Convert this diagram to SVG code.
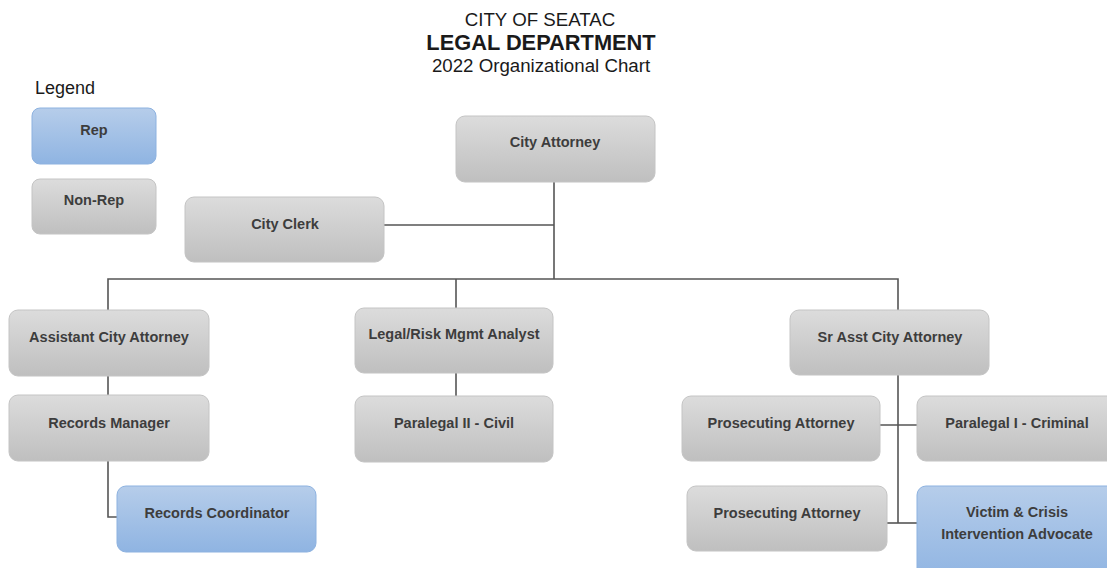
<svg xmlns="http://www.w3.org/2000/svg" width="1107" height="568" viewBox="0 0 1107 568">
  <style>
    .title { font-family: "Liberation Sans", Arial, sans-serif; fill: #1a1a1a; text-anchor: middle; }
    .legend { font-family: "Liberation Sans", Arial, sans-serif; font-size: 18px; fill: #1a1a1a; }
    .box { stroke-width: 1; }
    .grey { fill: url(#gGrey); stroke: #c4c4c4; }
    .blue { fill: url(#gBlue); stroke: #8db2e0; }
    .lbl { font-family: "Liberation Sans", Arial, sans-serif; font-weight: bold; font-size: 14.5px; fill: #3d3d3d; text-anchor: middle; }
    .conn { fill: none; stroke: #555; stroke-width: 1.6; }
  </style>
  <defs>
    <linearGradient id="gGrey" x1="0" y1="0" x2="0" y2="1">
      <stop offset="0" stop-color="#dcdcdc"/>
      <stop offset="1" stop-color="#bfbfbf"/>
    </linearGradient>
    <linearGradient id="gBlue" x1="0" y1="0" x2="0" y2="1">
      <stop offset="0" stop-color="#b6cdea"/>
      <stop offset="1" stop-color="#8fb4e2"/>
    </linearGradient>
  </defs>

  <rect width="1107" height="568" fill="#ffffff"/>

  <!-- heading -->
  <g id="heading">
    <text class="title" x="540" y="26" font-size="18.7">CITY OF SEATAC</text>
    <text class="title" x="541" y="50" font-size="21.8" font-weight="bold" fill="#000">LEGAL DEPARTMENT</text>
    <text class="title" x="541" y="72" font-size="18.7">2022 Organizational Chart</text>
  </g>

  <!-- legend -->
  <g id="legend">
    <text class="legend" x="35" y="94">Legend</text>
    <g id="legend-rep">
      <rect class="box blue" x="32" y="108" width="124" height="56" rx="8"/>
      <text class="lbl" x="94" y="135">Rep</text>
    </g>
    <g id="legend-nonrep">
      <rect class="box grey" x="32" y="179" width="124" height="55" rx="8"/>
      <text class="lbl" x="94" y="205">Non-Rep</text>
    </g>
  </g>

  <!-- reporting lines -->
  <g id="connectors">
    <path class="conn" d="M554 181 V279"/>
    <path class="conn" d="M384 225 H554"/>
    <path class="conn" d="M108 310 V279 H898 V310"/>
    <path class="conn" d="M456 279 V308"/>
    <path class="conn" d="M108 376 V395"/>
    <path class="conn" d="M108 461 V517 H117"/>
    <path class="conn" d="M456 373 V396"/>
    <path class="conn" d="M898 375 V523"/>
    <path class="conn" d="M880 425 H917"/>
    <path class="conn" d="M887 523 H917"/>
  </g>

  <g id="city-attorney">
    <rect class="box grey" x="456" y="116" width="199" height="66" rx="9"/>
    <text class="lbl" x="555" y="147">City Attorney</text>
  </g>
  <g id="city-clerk">
    <rect class="box grey" x="185" y="197" width="199" height="65" rx="9"/>
    <text class="lbl" x="285" y="229">City Clerk</text>
  </g>
  <g id="assistant-city-attorney">
    <rect class="box grey" x="9" y="310" width="200" height="66" rx="9"/>
    <text class="lbl" x="109" y="342">Assistant City Attorney</text>
  </g>
  <g id="records-manager">
    <rect class="box grey" x="9" y="395" width="200" height="66" rx="9"/>
    <text class="lbl" x="109" y="428">Records Manager</text>
  </g>
  <g id="records-coordinator">
    <rect class="box blue" x="117" y="486" width="199" height="66" rx="9"/>
    <text class="lbl" x="217" y="518">Records Coordinator</text>
  </g>
  <g id="legal-risk-analyst">
    <rect class="box grey" x="355" y="308" width="198" height="65" rx="9"/>
    <text class="lbl" x="454" y="339">Legal/Risk Mgmt Analyst</text>
  </g>
  <g id="paralegal-ii-civil">
    <rect class="box grey" x="355" y="396" width="198" height="66" rx="9"/>
    <text class="lbl" x="454" y="428">Paralegal II - Civil</text>
  </g>
  <g id="sr-asst-city-attorney">
    <rect class="box grey" x="790" y="310" width="199" height="65" rx="9"/>
    <text class="lbl" x="890" y="342">Sr Asst City Attorney</text>
  </g>
  <g id="prosecuting-attorney-1">
    <rect class="box grey" x="682" y="396" width="198" height="65" rx="9"/>
    <text class="lbl" x="781" y="428">Prosecuting Attorney</text>
  </g>
  <g id="paralegal-i-criminal">
    <rect class="box grey" x="917" y="396" width="200" height="65" rx="9"/>
    <text class="lbl" x="1017" y="428">Paralegal I - Criminal</text>
  </g>
  <g id="prosecuting-attorney-2">
    <rect class="box grey" x="687" y="486" width="200" height="65" rx="9"/>
    <text class="lbl" x="787" y="518">Prosecuting Attorney</text>
  </g>
  <g id="victim-crisis-advocate">
    <rect class="box blue" x="917" y="486" width="200" height="95" rx="9"/>
    <text class="lbl" x="1017" y="517">Victim &amp; Crisis</text>
    <text class="lbl" x="1017" y="539">Intervention Advocate</text>
  </g>
</svg>
